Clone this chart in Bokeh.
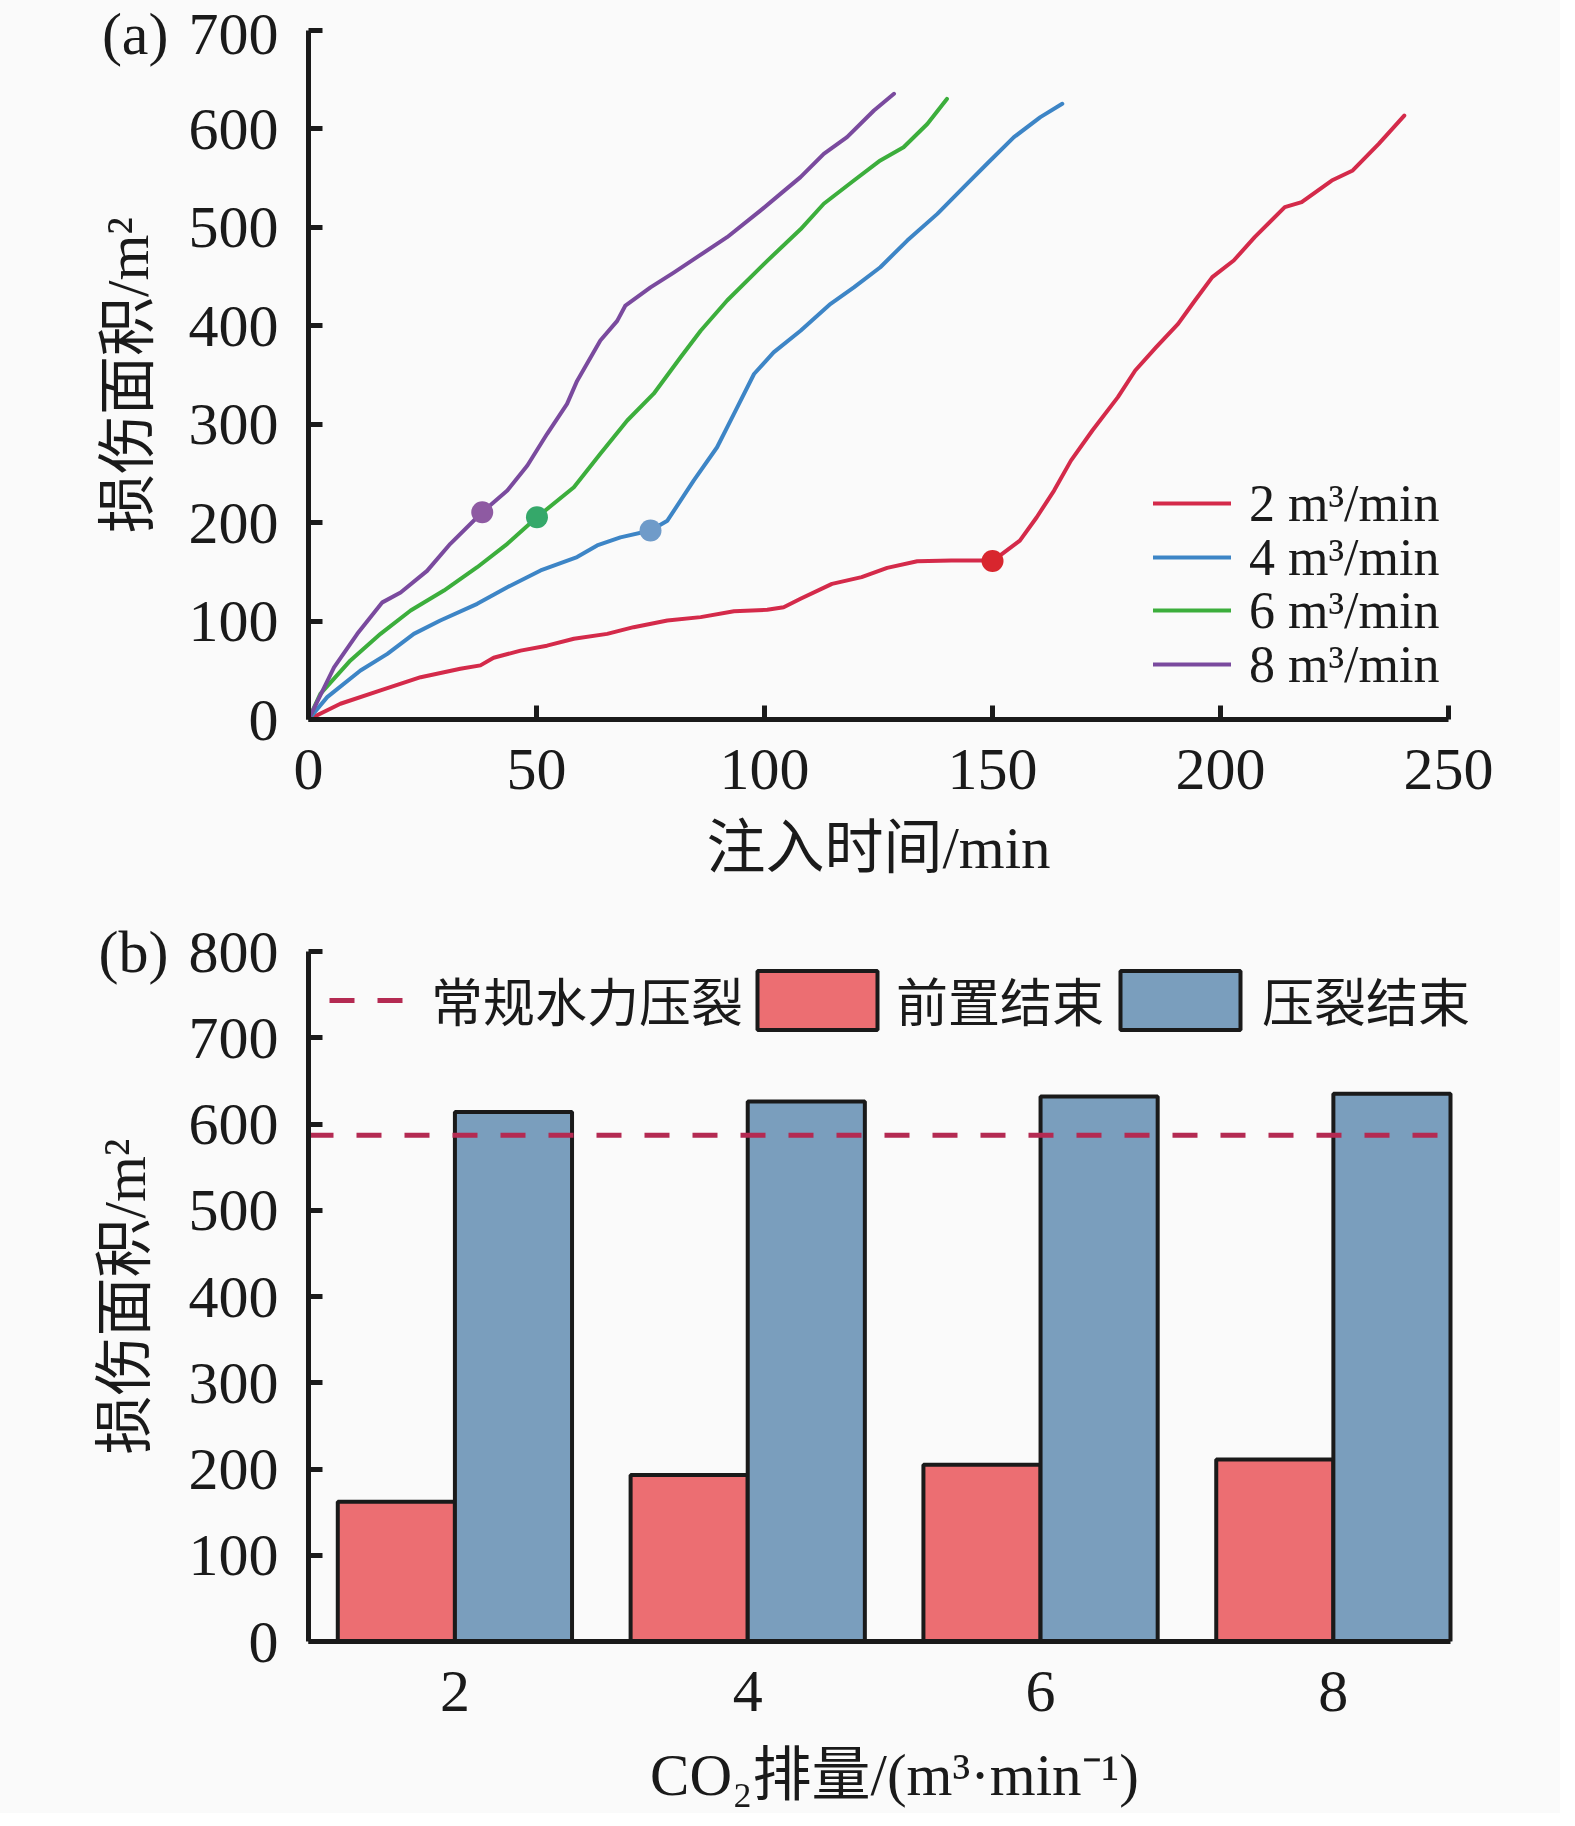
from bokeh.plotting import figure
from bokeh.layouts import column
from bokeh.models import (Range1d, FixedTicker, Legend, LegendItem, ColumnDataSource)
from bokeh.transform import dodge
from bokeh.embed import file_html
from bokeh.resources import INLINE

# ---------------- Panel (a): damage area vs injection time ----------------
t_2 = [0, 7, 15.8, 24.6, 33.3, 37.7, 40.6, 46.5, 52.3, 58.2, 65.5, 71.3, 78.7, 86,
       93.3, 100.6, 104.2, 107.9, 114.8, 121.3, 126.9, 133.5, 141, 147.6, 150, 156,
       159.7, 163.5, 167.2, 171.9, 177.5, 181.3, 185.9, 190.7, 194.4, 198.2, 202.9,
       207.5, 214.1, 217.8, 224.4, 229, 234.7, 240.3]
area_2 = [0, 16, 29.5, 43, 51.5, 55, 62.7, 70, 75, 82, 87, 93.8, 100.6, 104,
          110, 111.4, 114, 122.6, 137.8, 144.6, 154, 160.8, 161.5, 161.5, 161, 181.8,
          205.5, 232.6, 263, 293.6, 327.5, 354.6, 378.3, 402, 425.7, 449.4, 466.3,
          490, 520.5, 525.6, 547.6, 557.8, 584.9, 613.6]

t_4 = [0, 4.1, 11.4, 17.3, 23.1, 28.9, 37, 43.6, 50.9, 58.9, 63.3, 68.4, 75, 78.7,
       84.5, 89.6, 93.3, 97.7, 102, 107.9, 114.5, 119.6, 125.4, 131.3, 137.9, 143.7,
       148.8, 154.7, 160.5, 165.3]
area_4 = [0, 22.7, 49.8, 66.7, 87, 100.6, 117.5, 134.4, 151.4, 165, 176.8, 185, 192, 202,
          243, 276.6, 310.6, 351, 373, 395, 422.3, 439, 459.5, 486.6, 513.7, 540.8,
          564.6, 591.6, 612, 625.5]

t_6 = [0, 2.6, 9.2, 15.8, 22.4, 29.7, 37, 43.6, 50.1, 58.2, 64, 69.9, 75.7, 81.6, 86,
       91.8, 100.6, 107.9, 113, 119.6, 125.4, 130.5, 135.7, 140]
area_6 = [0, 26, 60, 87, 110.7, 131, 154.7, 178.5, 205.5, 236, 270, 303.8, 331, 368, 395,
          425.7, 466, 498, 524, 547.6, 568, 581.4, 605, 630.5]

t_8 = [0, 5.6, 10.7, 16.2, 20.2, 26, 31.1, 38.1, 43.6, 48, 52.3, 56.7, 58.9, 64, 67.7,
       69.5, 75, 80.1, 85.2, 91.8, 99.1, 103.5, 107.9, 113, 118.1, 124, 128.4]
area_8 = [0, 53, 87, 119, 129, 151, 178.5, 210.6, 232.6, 258, 290, 320.7, 344, 385, 405,
          420.6, 439, 454, 469.7, 490, 517, 534, 551, 574.7, 591.6, 618.7, 635.7]

series_labels = ["2 m³/min", "4 m³/min", "6 m³/min", "8 m³/min"]
line_colors = ["#d42a4a", "#3d85c6", "#3cae3c", "#7a4a9e"]

# end-of-pad points (markers)
marker_t = [150, 75, 50.1, 38.1]
marker_area = [161, 192, 205.5, 210.6]
marker_colors = ["#d8262e", "#6f9bc9", "#35a86a", "#8e5aa2"]

x_ticks_a = [0, 50, 100, 150, 200, 250]
y_ticks_a = [0, 100, 200, 300, 400, 500, 600, 700]

# ---------------- Panel (b): bars ----------------
rates = [2, 4, 6, 8]
rate_labels = ["2", "4", "6", "8"]
pad_end = [162, 193, 205, 211]
frac_end = [614, 626, 632, 635]
conventional = 587
y_ticks_b = [0, 100, 200, 300, 400, 500, 600, 700, 800]

FONT = "Liberation Serif, Noto Sans CJK SC"
BG = "#fafafa"
INK = "#1a1a1a"
GAP = "\u2004"


def style_axes(p, x_ticks_in=True, x_label_standoff=23):
    for ax in [p.xaxis[0], p.yaxis[0]]:
        ax.axis_line_width = 5
        ax.axis_line_color = INK
        ax.major_tick_in = 14
        ax.major_tick_out = 0
        ax.major_tick_line_width = 5
        ax.major_tick_line_color = INK
        ax.minor_tick_line_color = None
        ax.major_label_text_font = FONT
        ax.major_label_text_font_size = "60px"
        ax.major_label_text_color = INK
        ax.axis_label_text_font = FONT
        ax.axis_label_text_font_size = "59px"
        ax.axis_label_text_font_style = "normal"
        ax.axis_label_text_color = INK
    p.yaxis[0].major_label_standoff = 30
    # the widest tick label carries the panel tag, so pull the title back in
    p.yaxis[0].axis_label_standoff = -62
    p.xaxis[0].major_label_standoff = 30
    p.xaxis[0].axis_label_standoff = x_label_standoff
    if not x_ticks_in:
        p.xaxis[0].major_tick_in = 0


def one_item_legend(item, loc, gw, gh, standoff, orientation="horizontal"):
    return Legend(items=[item], location=loc, orientation=orientation,
                  glyph_width=gw, glyph_height=gh, label_height=gh,
                  label_standoff=standoff,
                  padding=0, margin=0, spacing=0,
                  label_text_font=FONT, label_text_font_size="52px",
                  label_text_color=INK,
                  background_fill_alpha=0, border_line_alpha=0)


# ---------- top figure ----------
p1 = figure(frame_width=1140, frame_height=689,
            x_range=Range1d(x_ticks_a[0], x_ticks_a[-1]),
            y_range=Range1d(y_ticks_a[0], y_ticks_a[-1]),
            output_backend="svg", toolbar_location=None,
            min_border_left=308, min_border_right=112,
            min_border_top=30, min_border_bottom=161,
            background_fill_color=BG, border_fill_color=BG,
            outline_line_color=None)
p1.grid.visible = False
p1.xaxis.ticker = FixedTicker(ticks=x_ticks_a)
p1.yaxis.ticker = FixedTicker(ticks=y_ticks_a)
p1.yaxis.major_label_overrides = {y_ticks_a[-1]: "(a)" + GAP + str(y_ticks_a[-1])}
p1.xaxis.axis_label = "注入时间/min"
p1.yaxis.axis_label = "损伤面积/m²"
style_axes(p1, x_label_standoff=23)

renderers_a = []
for t, a, c in zip([t_2, t_4, t_6, t_8], [area_2, area_4, area_6, area_8], line_colors):
    renderers_a.append(p1.line(t, a, line_width=4, line_color=c,
                               line_join="round", line_cap="round"))

msrc = ColumnDataSource(dict(t=marker_t, a=marker_area, c=marker_colors))
p1.scatter("t", "a", source=msrc, size=22, fill_color="c", line_color=None)

# legend rows: one legend per row so the row pitch matches the original
ROW_H = 60
row_bottoms = [186, 132, 79, 25]      # screen px above the frame bottom
for lab, r, yb in zip(series_labels, renderers_a, row_bottoms):
    p1.add_layout(one_item_legend(LegendItem(label=lab, renderers=[r]),
                                  (845, yb), 78, ROW_H, 18, "vertical"), "center")

# ---------- bottom figure ----------
px_per_unit = 1142 / 7.8
x_lo = rates[0] - 1.0
x_hi = rates[-1] + 0.8
p2 = figure(frame_width=1172, frame_height=690,
            x_range=Range1d(x_lo, x_hi + 30 / px_per_unit),
            y_range=Range1d(y_ticks_b[0], y_ticks_b[-1]),
            output_backend="svg", toolbar_location=None,
            min_border_left=308, min_border_right=80,
            min_border_top=68, min_border_bottom=172,
            background_fill_color=BG, border_fill_color=BG,
            outline_line_color=None)
p2.grid.visible = False
p2.xaxis.ticker = FixedTicker(ticks=rates)
p2.xaxis.major_label_overrides = {r: s for r, s in zip(rates, rate_labels)}
p2.xaxis.bounds = (x_lo, x_hi)
p2.yaxis.ticker = FixedTicker(ticks=y_ticks_b)
p2.yaxis.major_label_overrides = {y_ticks_b[-1]: "(b)" + GAP + str(y_ticks_b[-1])}
p2.xaxis.axis_label = "CO₂排量/(m³·min⁻¹)"
p2.yaxis.axis_label = "损伤面积/m²"
style_axes(p2, x_ticks_in=False, x_label_standoff=28)

bsrc = ColumnDataSource(dict(rate=rates, pad=pad_end, frac=frac_end))
r_pad = p2.vbar(x=dodge("rate", -0.4, range=p2.x_range), top="pad", bottom=0, width=0.8,
                source=bsrc, fill_color="#ec6e72", line_color=INK, line_width=4)
r_frac = p2.vbar(x=dodge("rate", 0.4, range=p2.x_range), top="frac", bottom=0, width=0.8,
                 source=bsrc, fill_color="#7a9ebd", line_color=INK, line_width=4)

r_dash = p2.line(x=[x_lo, x_hi], y=[conventional, conventional],
                 line_color="#b42a52", line_width=5, line_dash="25 23")

p2.add_layout(one_item_legend(LegendItem(label="常规水力压裂", renderers=[r_dash]), (21, 604), 82, 74, 20), "center")
p2.add_layout(one_item_legend(LegendItem(label="前置结束", renderers=[r_pad]), (434, 604), 150, 74, 4), "center")
p2.add_layout(one_item_legend(LegendItem(label="压裂结束", renderers=[r_frac]), (797, 604), 150, 74, 7), "center")

layout = column(p1, p2, spacing=0)
layout.styles = {"background-color": BG}

open("out.html", "w").write(file_html(layout, INLINE))
